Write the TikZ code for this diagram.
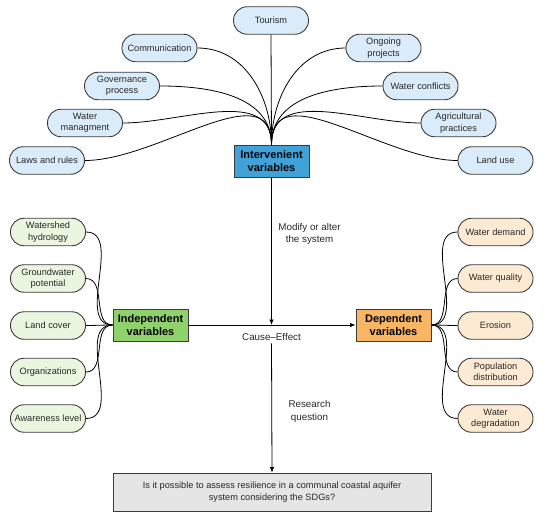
\documentclass[tikz,border=0pt]{standalone}
\usepackage{fontspec}
\setmainfont{Liberation Sans}
\usetikzlibrary{arrows.meta}
\definecolor{pillblue}{RGB}{218,236,250}
\definecolor{pillgreen}{RGB}{234,246,223}
\definecolor{pillorange}{RGB}{253,234,210}
\definecolor{boxblue}{RGB}{64,162,217}
\definecolor{boxgreen}{RGB}{143,210,108}
\definecolor{boxorange}{RGB}{248,182,100}
\definecolor{boxgray}{RGB}{229,229,229}
\definecolor{edge}{RGB}{60,60,60}
\definecolor{txt}{RGB}{40,40,40}
\tikzset{
  pill/.style={draw=edge, line width=0.9bp, rounded corners=13.5bp, minimum width=75bp, minimum height=27.5bp,
    inner sep=1bp, align=center, text=txt, font=\fontsize{9.2bp}{11.3bp}\selectfont},
  bluepill/.style={pill, fill=pillblue},
  greenpill/.style={pill, fill=pillgreen},
  orangepill/.style={pill, fill=pillorange},
  mainbox/.style={draw=edge, line width=0.9bp, minimum width=75bp, minimum height=32bp, inner sep=1bp,
    align=center, text=black, font=\fontsize{11bp}{12.7bp}\selectfont\bfseries},
  lbl/.style={align=center, text=txt, font=\fontsize{9.8bp}{12.5bp}\selectfont, inner sep=1bp},
  fan/.style={draw=black, line width=0.8bp},
  arr/.style={draw=black, line width=0.8bp, -{Latex[length=5.5bp,width=4.5bp]}},
}
\begin{document}
\begin{tikzpicture}[x=1bp, y=-1bp]
\useasboundingbox[fill=white] (0,0) rectangle (550,526);
% top pills
\node[bluepill] (tour) at (271,20.5) {Tourism};
\node[bluepill] (comm) at (159.5,48) {Communication};
\node[bluepill] (gov) at (122,86) {Governance\\process};
\node[bluepill] (wman) at (85,123) {Water\\managment};
\node[bluepill] (laws) at (47,160.5) {Laws and rules};
\node[bluepill] (ongo) at (383.5,48) {Ongoing\\projects};
\node[bluepill] (wcon) at (420.5,86) {Water conflicts};
\node[bluepill] (agri) at (458.5,123) {Agricultural\\practices};
\node[bluepill] (luse) at (495.5,160.5) {Land use};
% main boxes
\node[mainbox, fill=boxblue] (inter) at (271.5,161) {Intervenient\\variables};
\node[mainbox, fill=boxgreen] (indep) at (150.5,325) {Independent\\variables};
\node[mainbox, fill=boxorange] (dep) at (393.5,325) {Dependent\\variables};
\node[draw=edge, line width=0.9bp, fill=boxgray, minimum width=318bp, minimum height=38bp, align=center,
  text=txt, font=\fontsize{9.2bp}{12bp}\selectfont] (quest) at (272,492)
  {Is it possible to assess resilience in a communal coastal aquifer\\system considering the SDGs?};
% left pills
\node[greenpill] (wsh) at (48,232) {Watershed\\hydrology};
\node[greenpill] (gw) at (48,278.5) {Groundwater\\potential};
\node[greenpill] (lc) at (48,325.5) {Land cover};
\node[greenpill] (org) at (48,372) {Organizations};
\node[greenpill] (aw) at (48,418.5) {Awareness level};
% right pills
\node[orangepill] (wd) at (495.5,232) {Water demand};
\node[orangepill] (wq) at (495.5,278.5) {Water quality};
\node[orangepill] (ero) at (495.5,325.5) {Erosion};
\node[orangepill] (pop) at (495.5,372) {Population\\distribution};
\node[orangepill] (wdeg) at (495.5,418.5) {Water\\degradation};
% labels
\node[lbl] (modify) at (309.5,234) {Modify or alter\\the system};
\node[lbl] (research) at (309.5,411.5) {Research\\question};
\node[lbl, fill=white, inner sep=2.5bp] (cause) at (271.5,337) {Cause--Effect};
\coordinate (hit) at (271.5,325);
% top fan
\draw[fan] (tour.south) -- (inter.north);
\foreach \n in {comm,gov,wman,laws}
  \draw[fan] (\n.east) to[out=0,in=90] (inter.north);
\foreach \n in {ongo,wcon,agri,luse}
  \draw[fan] (\n.west) to[out=180,in=90] (inter.north);
% left fan
\foreach \n in {wsh,gw,lc,org,aw}
  \draw[fan] (\n.east) to[out=0,in=180] (indep.west);
% right fan
\foreach \n in {wd,wq,ero,pop,wdeg}
  \draw[fan] (dep.east) to[out=0,in=180] (\n.west);
% arrows
\draw[arr] (indep.east) -- (dep.west);
\draw[arr] (inter.south) -- (hit);
\draw[arr] (cause.south) -- (quest.north);
\end{tikzpicture}
\end{document}
